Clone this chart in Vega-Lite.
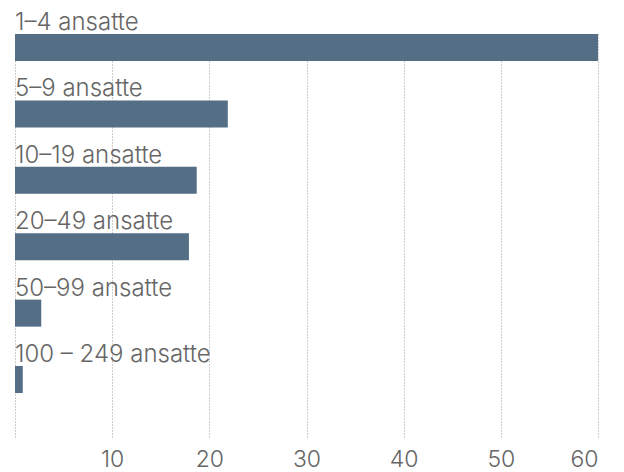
{
  "$schema": "https://vega.github.io/schema/vega-lite/v6.json",
  "autosize": {"type": "none"},
  "padding": {"left": 15, "top": 34, "right": 26, "bottom": 35},
  "width": 583,
  "height": 403,
  "background": "#ffffff",
  "config": {"view": {"stroke": null}, "font": "Inter"},
  "data": {
    "values": [
      {"kategori": "1–4 ansatte", "verdi": 60.0},
      {"kategori": "5–9 ansatte", "verdi": 21.9},
      {"kategori": "10–19 ansatte", "verdi": 18.7},
      {"kategori": "20–49 ansatte", "verdi": 17.9},
      {"kategori": "50–99 ansatte", "verdi": 2.7},
      {"kategori": "100 – 249 ansatte", "verdi": 0.8}
    ]
  },
  "encoding": {
    "y": {
      "field": "kategori",
      "type": "nominal",
      "sort": null,
      "axis": null,
      "scale": {"paddingInner": 0.593, "paddingOuter": 0.331, "align": 0}
    }
  },
  "layer": [
    {
      "mark": {"type": "bar", "color": "#546e85"},
      "encoding": {
        "x": {
          "field": "verdi",
          "type": "quantitative",
          "scale": {"domain": [0, 60], "nice": false},
          "axis": {
            "title": null,
            "values": [0, 10, 20, 30, 40, 50, 60],
            "labelExpr": "datum.value == 0 ? '' : datum.label",
            "domain": false,
            "ticks": false,
            "grid": true,
            "gridColor": "#999999",
            "gridDash": [1, 2],
            "gridWidth": 1,
            "labelFontSize": 23,
            "labelColor": "#666666",
            "labelPadding": 11,
            "labelFont": "Inter",
            "labelFontWeight": 300
          }
        }
      }
    },
    {
      "mark": {"type": "text", "align": "left", "baseline": "alphabetic", "dy": -4, "fontSize": 24, "color": "#666666", "font": "Inter", "fontWeight": 300},
      "encoding": {
        "y": {"field": "kategori", "type": "nominal", "sort": null, "bandPosition": 0},
        "x": {"datum": 0, "type": "quantitative"},
        "text": {"field": "kategori"}
      }
    }
  ]
}
